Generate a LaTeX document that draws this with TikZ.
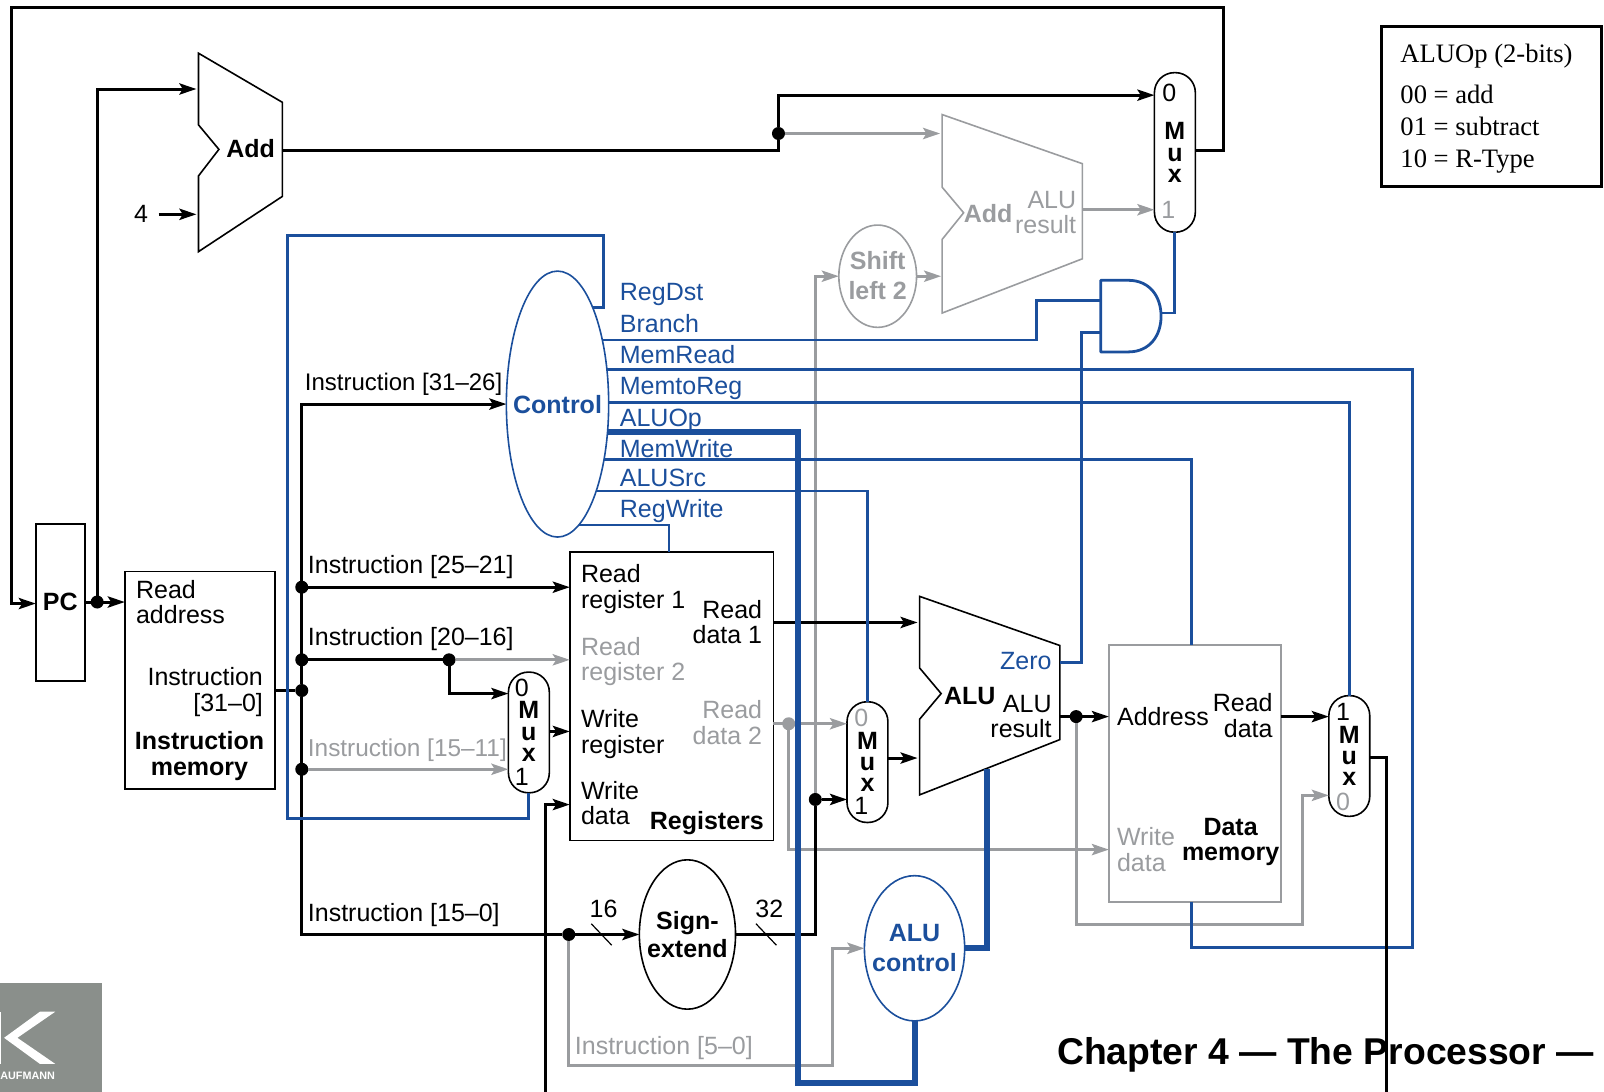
\documentclass[tikz,border=0pt]{standalone}
\usepackage{fontspec}
\setmainfont{Liberation Sans}
\newfontfamily\timesf{Liberation Serif}
\usetikzlibrary{arrows.meta,shapes.geometric}
\definecolor{cblue}{HTML}{1B4F9C}
\definecolor{cgray}{HTML}{9A9C9F}
\definecolor{clogo}{HTML}{8A8F8B}
\newlength{\uu}\setlength{\uu}{0.5115pt}
\tikzset{
  x=\uu,y=-\uu,
  >={Stealth[length=8.5pt,width=5.6pt,inset=1.7pt]},
  wire/.style={line width=1.5pt,black,line join=miter},
  gwire/.style={line width=1.5pt,cgray},
  bwire/.style={line width=1.4pt,cblue},
  thickwire/.style={line width=3pt,cblue},
  boxn/.style={draw,line width=0.8pt,inner sep=0,outer sep=0,rectangle},
  muxn/.style={draw,line width=0.8pt,inner sep=0,outer sep=0,rectangle,rounded corners=10pt,minimum width=40\uu},
  ell/.style={draw,ellipse,inner sep=0,outer sep=0},
  dotn/.style={circle,fill=black,inner sep=0,outer sep=0,minimum size=6.5pt},
  gdotn/.style={dotn,fill=cgray},
  lbl/.style={inner sep=0,outer sep=0,font=\fontsize{12.5}{12.8}\selectfont},
  lblw/.style={lbl,anchor=west,align=left},
  lble/.style={lbl,anchor=east,align=right},
  bold/.style={lbl,align=center,font=\fontsize{12.5}{12.8}\selectfont\bfseries},
  muxt/.style={lbl,align=center,font=\fontsize{12.5}{10.6}\selectfont\bfseries},
  ctl/.style={lblw,text=cblue,text height=9pt,text depth=3pt},
  leg/.style={inner sep=0,outer sep=0,anchor=west,font=\fontsize{13.3}{14}\timesf},
}
\begin{document}
\begin{tikzpicture}
\useasboundingbox (0,0) rectangle (1568,1067);
% logo
\fill[clogo] (0,961) rectangle (100,1067);
\fill[white] (54,989) -- (39,989) -- (4,1014.5) -- (39,1040) -- (54,1040) -- (17,1014.5) -- cycle;
\fill[white] (0,989) rectangle (1,1040);
\node[inner sep=0,text=white,font=\fontsize{5.4}{6}\selectfont\bfseries] (logotext) at (27,1052) {AUFMANN};
% blocks
\node[boxn,minimum width=48\uu,minimum height=153\uu] (pc) at (59,589) {};
\node[boxn,minimum width=147\uu,minimum height=213\uu] (im) at (195.5,665) {};
\node[boxn,minimum width=199\uu,minimum height=282\uu] (rg) at (656.5,680.5) {};
\node[boxn,draw=cgray,line width=1pt,minimum width=168\uu,minimum height=251\uu] (dm) at (1168,756) {};
\node[muxn,minimum height=156\uu] (m0) at (1148.5,149) {};
\node[muxn,minimum height=118\uu] (m1) at (517,716) {};
\node[muxn,minimum height=118\uu] (m2) at (848,745) {};
\node[muxn,minimum height=118\uu] (m3) at (1319,739) {};
\node[ell,draw=cblue,line width=0.8pt,minimum width=100\uu,minimum height=260\uu] (ctrl) at (545,395) {};
\node[ell,line width=0.8pt,minimum width=94\uu,minimum height=146\uu] (se) at (672,913.5) {};
\node[ell,draw=cblue,line width=0.8pt,minimum width=98\uu,minimum height=142\uu] (ac) at (894,927) {};
\node[ell,draw=cgray,line width=0.8pt,minimum width=76\uu,minimum height=100\uu] (sl) at (858,270) {};
\node[boxn,line width=1.5pt,minimum width=216\uu,minimum height=156\uu] (legend) at (1458,104) {};
% adders / ALU
\draw[line width=0.8pt] (194,52) -- (276,100) -- (276,192) -- (194,246) -- (194,172) -- (214,146) -- (194,122) -- cycle;
\draw[line width=0.8pt,cgray] (921,112) -- (1058,160) -- (1058,253) -- (921,306) -- (921,234) -- (942,208) -- (921,183) -- cycle;
\draw[line width=0.8pt] (899,583) -- (1036,631) -- (1036,723) -- (899,777) -- (899,703) -- (920,678) -- (899,653) -- cycle;
% AND
\draw[bwire,line join=round] (1076,274) -- (1103,274) .. controls (1124,274) and (1135,290) .. (1135,309) .. controls (1135,328) and (1124,344) .. (1103,344) -- (1076,344) -- cycle;
% named points
\coordinate (addA) at (192,87);
\coordinate (addB) at (192,209.5);
\coordinate (addO) at (276,147);
\coordinate (gaddA) at (919,130.5);
\coordinate (gaddB) at (920,270);
\coordinate (gaddO) at (1058,205);
\coordinate (aluA) at (897,608.5);
\coordinate (aluB) at (897,741);
\coordinate (aluO) at (1036,700.5);
\coordinate (aluZ) at (1036,648);
\coordinate (aluC) at (965,752);
\coordinate (andA) at (1076,294);
\coordinate (andB) at (1076,325);
\coordinate (andO) at (1135,306);
\coordinate (four) at (155,209.5);
\coordinate (wdbot) at (533,1067);
\coordinate (m3bot) at (1355,1067);
% dots
\node[dotn] (dpc) at (95,588.5) {};
\node[dotn] (dadd) at (761,130.5) {};
\node[dotn] (t1) at (295,574) {};
\node[dotn] (t2) at (295,645) {};
\node[dotn] (t3) at (295,675) {};
\node[dotn] (t4) at (295,752) {};
\node[dotn] (t5) at (439,645) {};
\node[dotn] (t6) at (556,913.5) {};
\node[dotn] (t7) at (797,781.5) {};
\node[dotn] (t8) at (1052,700.5) {};
\node[gdotn] (t9) at (771,707.5) {};
% gray wires
\draw[gwire,->] (dadd) -- (gaddA);
\draw[gwire,->] (gaddO) -- (m0.west |- gaddO);
\draw[gwire,->] (sl.east) -- (gaddB);
\draw[gwire,->] (t7) |- (sl.west);
\draw[gwire,->] (t5) -- (rg.west |- t5);
\draw[gwire,->] (t4) -- (m1.west |- t4);
\draw[gwire,->] (rg.east |- t9) -- (m2.west |- t9);
\draw[gwire,->] (t9) |- (dm.west |- 0,830.5);
\draw[gwire,->] (t8) -- (1052,903.5) -| (1273,777.5) -- (m3.west |- 0,777.5);
\draw[gwire,->] (t6) -- (556,1041.5) -| (814,927) -- (ac.west);
% black wires
\draw[wire,->] (m0.east |- 0,147) -| (1196,7) -| (11,590) -- (pc.west |- 0,590);
\draw[wire,->] (pc.east |- dpc) -- (im.west |- dpc);
\draw[wire,->] (dpc) |- (addA);
\draw[wire,->] (four) -- (addB);
\draw[wire,->] (addO) -| (dadd) |- (m0.west |- 0,93);
\draw[wire,->] (t3) -- (295,913.5) -- (t6) -- (se.west);
\draw[wire,->] (t3) |- (ctrl.west);
\draw[wire] (im.east |- t3) -- (t3);
\draw[wire,->] (t1) -- (rg.west |- t1);
\draw[wire] (t2) -- (t5);
\draw[wire,->] (t5) |- (m1.west |- 0,678);
\draw[wire,->] (m1.east |- 0,715) -- (rg.west |- 0,715);
\draw[wire,->] (wdbot) |- (rg.west |- 0,786.5);
\draw[wire,->] (rg.east |- aluA) -- (aluA);
\draw[wire,->] (m2.east |- aluB) -- (aluB);
\draw[wire,->] (t7) -- (m2.west |- t7);
\draw[wire] (se.east) -| (t7);
\draw[wire,->] (aluO) -- (dm.west |- aluO);
\draw[wire,->] (dm.east |- 0,700.5) -- (m3.west |- 0,700.5);
% bus ticks
\coordinate (tk1a) at (578,903); \coordinate (tk1b) at (598,924);
\coordinate (tk2a) at (739,903); \coordinate (tk2b) at (759,924);
\draw[line width=0.6pt] (tk1a) -- (tk1b);
\draw[line width=0.6pt] (tk2a) -- (tk2b);
% control wires
\draw[bwire] (ctrl.70.2) -| (590,230) -| (281,800.5) -| (m1.south);
\draw[bwire] (ctrl.55.2) -| (1013,294) -- (andA);
\draw[bwire] (ctrl.35.1) -| (1381,926) -| (dm.south -| 1165,0);
\draw[bwire] (ctrl.2.3) -| (m3.north);
\draw[thickwire] (ctrl.-29.8) -| (780,1058.5) -| (ac.south);
\draw[bwire] (ctrl.-50.5) -| (dm.north -| 1165,0);
\draw[bwire] (ctrl.-66.4) -| (m2.north);
\draw[bwire] (ctrl.-80) -| (rg.north -| 654,0);
\draw[thickwire] (ac.east) -| (aluC);
\draw[bwire] (aluZ) -| (1057,325) -- (andB);
\draw[bwire] (andO) -| (m0.south);
% mux output
\draw[wire] (m3.east |- 0,740) -| (m3bot);
% text
\node[bold] (tpc) at (59,588) {PC};
\node[bold] (tadd) at (245,145) {Add};
\node[lbl] (t4l) at (138,209.5) {4};
\node[bold,text=cgray] (tgadd) at (966,209) {Add};
\node[lble,text=cgray] (tgres) at (1052,208) {ALU\\[-0.5pt]result};
\node[bold,text=cgray,font=\fontsize{12.5}{15}\selectfont\bfseries] (tsl) at (858,269) {Shift\\left 2};
\node[lbl] (m0z) at (1143,91) {0};
\node[muxt] (m0m) at (1148.5,149) {M\\u\\x};
\node[lbl,text=cgray] (m0o) at (1142,205) {1};
\node[lbl] (m1z) at (510,672) {0};
\node[muxt] (m1m) at (517,715) {M\\u\\x};
\node[lbl] (m1o) at (510,759) {1};
\node[lbl,text=cgray] (m2z) at (842,702) {0};
\node[muxt] (m2m) at (848,745) {M\\u\\x};
\node[lbl] (m2o) at (842,788) {1};
\node[lbl] (m3z) at (1313,696) {1};
\node[muxt] (m3m) at (1319,739) {M\\u\\x};
\node[lbl,text=cgray] (m3o) at (1313,784) {0};
\node[lblw] (ti1) at (133,588.5) {Read\\address};
\node[lble] (ti2) at (257,676.5) {Instruction\\{}[31–0]};
\node[bold] (ti3) at (195,739) {Instruction\\memory};
\node[lblw,font=\fontsize{12}{12.8}\selectfont] (i1) at (298,376) {Instruction [31–26]};
\node[lblw] (i2) at (301,554) {Instruction [25–21]};
\node[lblw] (i3) at (301,625) {Instruction [20–16]};
\node[lblw,text=cgray,font=\fontsize{12.2}{12.8}\selectfont] (i4) at (301,733) {Instruction [15–11]};
\node[lblw] (i5) at (301,894.5) {Instruction [15–0]};
\node[lblw,text=cgray] (i6) at (562,1024.5) {Instruction [5–0]};
\node[bold,text=cblue] (tct) at (545,395) {Control};
\node[ctl] (c1) at (606,288) {RegDst};
\node[ctl] (c2) at (606,319) {Branch};
\node[ctl] (c3) at (606,349) {MemRead};
\node[ctl] (c4) at (606,380) {MemtoReg};
\node[ctl] (c5) at (606,411) {ALUOp};
\node[ctl] (c6) at (606,441) {MemWrite};
\node[ctl] (c7) at (606,470) {ALUSrc};
\node[ctl] (c8) at (606,500) {RegWrite};
\node[lblw] (r1) at (568,576) {Read\\register 1};
\node[lblw,text=cgray] (r2) at (568,646.5) {Read\\register 2};
\node[lblw] (r3) at (568,717.5) {Write\\register};
\node[lblw] (r4) at (568,785) {Write\\data};
\node[lble] (r5) at (745,608) {Read\\data 1};
\node[lble,text=cgray] (r6) at (745,706.5) {Read\\data 2};
\node[bold] (r7) at (691,804.5) {Registers};
\node[lbl] (n16) at (590,888) {16};
\node[lbl] (n32) at (752,888) {32};
\node[bold] (tse) at (672,913.5) {Sign-\\[1.5pt]extend};
\node[bold,text=cblue] (tac) at (894,927) {ALU\\[2pt]control};
\node[bold] (talu) at (948,680) {ALU};
\node[lble,text=cblue] (tz) at (1028,646) {Zero};
\node[lble] (tar) at (1028,700.5) {ALU\\result};
\node[lblw] (d1) at (1092,700) {Address};
\node[lble] (d2) at (1244,699.5) {Read\\data};
\node[lblw,text=cgray] (d3) at (1092,830.5) {Write\\data};
\node[bold] (d4) at (1203,823) {Data\\memory};
\node[leg] (l1) at (1369,54.5) {ALUOp (2-bits)};
\node[leg] (l2) at (1369,92) {00 = add};
\node[leg] (l3) at (1369,124) {01 = subtract};
\node[leg] (l4) at (1369,157.5) {10 = R-Type};
\node[inner sep=0,anchor=west,font=\fontsize{18.65}{20}\selectfont\bfseries] (title) at (1033,1031) {Chapter 4 — The Processor —};
\end{tikzpicture}
\end{document}
